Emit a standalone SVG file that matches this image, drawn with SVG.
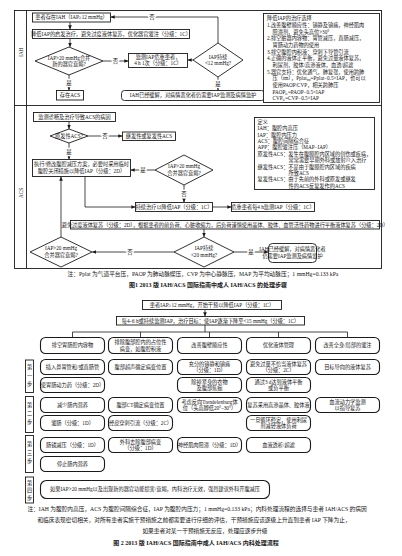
<svg xmlns="http://www.w3.org/2000/svg" width="402" height="556" viewBox="0 0 402 556">
<defs>
<marker id="ah" viewBox="0 0 6 6" refX="6" refY="3" markerUnits="userSpaceOnUse" markerWidth="4.2" markerHeight="4.2" orient="auto"><path d="M0,0.4 L6,3 L0,5.6 z" fill="#1a1a1a"/></marker>
<style>
.f{fill:none;stroke:#1a1a1a;stroke-width:0.9}
.b{fill:#fff;stroke:#1a1a1a;stroke-width:0.9}
.r{fill:#fff;stroke:#1a1a1a;stroke-width:1.1}
.t{font-family:"Liberation Serif","Noto Sans CJK SC",serif;font-size:5.2px;text-anchor:middle;fill:#141414}
.l{text-anchor:start}
.c{fill:none;stroke:#1a1a1a;stroke-width:0.8}
.a{marker-end:url(#ah)}
.y{font-size:5.4px;stroke:#fff;stroke-width:2.6px;paint-order:stroke}
.cap{font-size:5.7px}
.ttl{font-size:6px;font-weight:bold}
</style>
</defs>
<rect width="402" height="556" fill="#fff"/>

<!-- ================= Figure 1 ================= -->
<g id="fig1-frame">
<rect class="f" x="14.5" y="10.5" width="367" height="258"/>
<line class="f" x1="26.5" y1="10.5" x2="26.5" y2="268.5"/>
<line class="f" x1="14.5" y1="105.5" x2="381.5" y2="105.5"/>
<text class="t" transform="rotate(-90 20.5 52)" x="20.5" y="54" font-size="5.6">IAH</text>
<text class="t" transform="rotate(-90 20.5 193)" x="20.5" y="195" font-size="5.6">ACS</text>
</g>

<g id="f1-connectors">
<line class="c a" x1="70" y1="22" x2="70" y2="29.5"/>
<line class="c a" x1="70" y1="38.5" x2="70" y2="47"/>
<line class="c a" x1="103" y1="61" x2="128.5" y2="61"/>
<line class="c a" x1="193" y1="60" x2="187.5" y2="60"/>
<path class="c a" d="M218,43 V17 H110.5"/>
<line class="c a" x1="218" y1="77" x2="218" y2="90.5"/>
<line class="c a" x1="69" y1="75" x2="69" y2="90.5"/>
<line class="c a" x1="69" y1="121.5" x2="69" y2="129"/>
<line class="c a" x1="88" y1="136" x2="122.5" y2="136"/>
<line class="c a" x1="69" y1="143" x2="69" y2="159.5"/>
<line class="c a" x1="155" y1="170" x2="130.5" y2="170"/>
<path class="c a" d="M85,176.5 V207 H135.5"/>
<line class="c a" x1="184" y1="185" x2="184" y2="202.5"/>
<line class="c a" x1="212.5" y1="207" x2="231.5" y2="207"/>
<line class="c a" x1="204" y1="229" x2="204" y2="237"/>
<line class="c a" x1="174" y1="252" x2="92" y2="252"/>
<line class="c a" x1="234" y1="252" x2="268.5" y2="252"/>
<line class="c a" x1="61" y1="237" x2="61" y2="176.5"/>
<text class="t y" x="152" y="19">否</text>
<text class="t y" x="115.5" y="63">否</text>
<text class="t y" x="218" y="85.5">是</text>
<text class="t y" x="69" y="84.5">是</text>
<text class="t y" x="105" y="138">否</text>
<text class="t y" x="69" y="153.5">是</text>
<text class="t y" x="143" y="172">是</text>
<text class="t y" x="184" y="196">否</text>
<text class="t y" x="130" y="254">否</text>
<text class="t y" x="251" y="254">是</text>
</g>

<g id="n-iah">
<rect class="b" x="32.5" y="13" width="78" height="9" stroke-width="1.2"/>
<text class="t" x="71.5" y="19.4" font-size="5.3">患者存在IAH（IAP≥12 mmHg）</text>
</g>
<g id="n-start">
<rect class="b" x="32.5" y="29.5" width="157" height="9" stroke-width="1.2"/>
<text class="t" x="111" y="35.8" font-size="5">降低IAP的启发治疗，避免过度液体复苏，优化器官灌注（分级：1C）</text>
</g>
<g id="n-d1">
<polygon class="b" points="35,61 69,47 103,61 69,75"/>
<text class="t" x="69" y="59.6" font-size="5.1">IAP&gt;20 mmHg合并</text>
<text class="t" x="69" y="66.2" font-size="5.1">新的器官衰竭?</text>
</g>
<g id="n-monitor">
<rect class="b" x="128.5" y="53.5" width="59" height="14"/>
<text class="t" x="158" y="59.3" font-size="5">监测IAP危重患者，</text>
<text class="t" x="158" y="65.4" font-size="5">4 h 1次（分级：1C）</text>
</g>
<g id="n-d2">
<polygon class="b" points="193,60 218,43 243,60 218,77"/>
<text class="t" x="218" y="58.6" font-size="5">IAP持续</text>
<text class="t" x="218" y="65" font-size="5">&lt;12 mmHg?</text>
</g>
<g id="n-resolved1">
<rect class="b" x="121.5" y="90.5" width="143" height="10" rx="3"/>
<text class="t" x="193" y="97.3" font-size="5.2">IAH已经缓解，对病情恶化者仍需要IAP监测及病情监护</text>
</g>
<g id="n-acs">
<rect class="b" x="56.5" y="90.5" width="27" height="9.5"/>
<text class="t" x="70" y="97.1" font-size="5">存在ACS</text>
</g>
<g id="n-options">
<rect class="b" x="263.5" y="13.5" width="116" height="89"/>
<text class="t l" x="267" y="20.3" font-size="5.4">降低IAP的治疗选择</text>
<text class="t l" x="267" y="27" font-size="5.4">1.改善腹壁顺应性：镇静及镇痛，神经肌肉</text>
<text class="t l" x="272.5" y="33.6" font-size="5.4">阻滞剂，避免头高位&gt;30°</text>
<text class="t l" x="267" y="40.3" font-size="5.4">2.排空脏器内容物：胃管减压，直肠减压，</text>
<text class="t l" x="272.5" y="46.9" font-size="5.4">胃肠动力药物的使用</text>
<text class="t l" x="267" y="53.6" font-size="5.4">3.排空腹腔内积液：穿刺下导管引流</text>
<text class="t l" x="267" y="60.2" font-size="5.4">4.正确的液体正平衡，避免过量液体复苏，</text>
<text class="t l" x="272.5" y="66.9" font-size="5.4">利尿剂，胶体/高渗液体，血透/超滤</text>
<text class="t l" x="267" y="73.5" font-size="5.4">5.器官支持：优化通气，肺复张，使用跨肺</text>
<text class="t l" x="272.5" y="80.2" font-size="5.2">压（tm），Pplat<tspan font-size="3.6" dy="1">tm</tspan><tspan dy="-1">=Pplat−0.5×IAP，也可以</tspan></text>
<text class="t l" x="272.5" y="86.8" font-size="5.4">使用PAOP/CVP，相关跨肺压</text>
<text class="t l" x="272.5" y="93.5" font-size="5.4">PAOP<tspan font-size="3.6" dy="1">ie</tspan><tspan dy="-1">=PAOP−0.5×IAP</tspan></text>
<text class="t l" x="272.5" y="100.1" font-size="5.4">CVP<tspan font-size="3.6" dy="1">ie</tspan><tspan dy="-1">=CVP−0.5×IAP</tspan></text>
</g>

<g id="n-cause">
<rect class="b" x="33.5" y="112.5" width="82" height="9"/>
<text class="t" x="74.5" y="118.8" font-size="5.2">监测诊断及治疗导致ACS的病因</text>
</g>
<g id="n-d3">
<polygon class="b" points="50,136 69,129 88,136 69,143"/>
<text class="t" x="69" y="137.8" font-size="4.6">原发性ACS?</text>
</g>
<g id="n-secondary">
<rect class="b" x="122.5" y="132" width="53" height="8.5"/>
<text class="t" x="149" y="138.1" font-size="5.1">继发性或复发性ACS</text>
</g>
<g id="n-decomp">
<rect class="b" x="32.5" y="159.5" width="98" height="17"/>
<text class="t" x="81.5" y="166.2" font-size="5.1">执行/修改腹腔减压方案，必要时采用临时</text>
<text class="t" x="81.5" y="173.2" font-size="5.1">腹腔关闭措施以降低IAP（分级：2D）</text>
</g>
<g id="n-d4">
<polygon class="b" points="155,170 184,155 213,170 184,185"/>
<text class="t" x="184" y="168.4" font-size="5">IAP&gt;20 mmHg</text>
<text class="t" x="184" y="175" font-size="5">合并器官衰竭?</text>
</g>
<g id="n-defs">
<rect class="b" x="254.5" y="117.5" width="120" height="72"/>
<text class="t l" x="257.5" y="123.8" font-size="5.2">定义</text>
<text class="t l" x="257.5" y="130.2" font-size="5.2">IAH：腹腔内高压</text>
<text class="t l" x="257.5" y="136.6" font-size="5.2">IAP：腹腔内压力</text>
<text class="t l" x="257.5" y="143" font-size="5.2">ACS：腹腔间隔综合征</text>
<text class="t l" x="257.5" y="149.4" font-size="5.2">APP：腹腔灌注压（MAP−IAP）</text>
<text class="t l" x="257.5" y="155.8" font-size="5.2">原发性ACS：发生在腹膜腔内区域的创伤或疾病，</text>
<text class="t l" x="288.5" y="162.2" font-size="5.2">常常需要早期外科或放射介入治疗</text>
<text class="t l" x="257.5" y="168.6" font-size="5.2">继发性ACS：不是由于腹膜腔内区域的疾病</text>
<text class="t l" x="288.5" y="175" font-size="5.2">所致ACS</text>
<text class="t l" x="257.5" y="181.4" font-size="5.2">复发性ACS：由于先前的外科或原发或继发</text>
<text class="t l" x="288.5" y="187.8" font-size="5.2">性的ACS反复发作的ACS</text>
</g>
<g id="n-continue">
<rect class="b" x="135.5" y="202.5" width="77" height="9"/>
<text class="t" x="174" y="208.6" font-size="4.9">持续治疗以降低IAP（分级：1C）</text>
</g>
<g id="n-q4h">
<rect class="b" x="231.5" y="202.5" width="83" height="9"/>
<text class="t" x="273" y="208.6" font-size="4.9">危重患者每4 h监测IAP（分级：1C）</text>
</g>
<g id="n-fluid">
<rect class="b" x="70.5" y="220.5" width="309" height="8.5"/>
<text class="t" x="225" y="226.5" font-size="4.75">避免过度液体复苏（分级：2D），根据患者的前负荷、心脏收缩力，后负荷谨慎使用晶体、胶体、血管活性药物进行平衡液体复苏（分级：2D）</text>
</g>
<g id="n-d5">
<polygon class="b" points="174,252 204,237 234,252 204,267"/>
<text class="t" x="204" y="250.4" font-size="5">IAP持续</text>
<text class="t" x="204" y="257" font-size="5">&lt;20 mmHg?</text>
</g>
<g id="n-d6">
<polygon class="b" points="30,252 61,237 92,252 61,267"/>
<text class="t" x="61" y="250.4" font-size="5">IAP&gt;20 mmHg</text>
<text class="t" x="61" y="257" font-size="5">合并器官衰竭?</text>
</g>
<g id="n-resolved2">
<rect class="b" x="268.5" y="243.5" width="48" height="19" rx="4"/>
<text class="t" x="292.5" y="251.2" font-size="3.8">IAH已经缓解，对病情恶化者</text>
<text class="t" x="292.5" y="257.6" font-size="3.8">仍需要IAP监测及病情监护</text>
</g>

<g id="fig1-caption">
<text class="t cap" x="203" y="275.5">注：Pplat 为气道平台压，PAOP 为肺动脉楔压，CVP 为中心静脉压，MAP 为平均动脉压；1 mmHg=0.133 kPa</text>
<text class="t ttl" x="208" y="286.5">图1  2013 版 IAH/ACS 国际指南中成人 IAH/ACS 的处理步骤</text>
</g>

<!-- ================= Figure 2 ================= -->
<g id="f2-connectors">
<line class="c a" x1="205" y1="309.5" x2="205" y2="316.5"/>
<line class="c" x1="205" y1="325" x2="205" y2="332"/>
<line class="c" x1="72.5" y1="332" x2="347.5" y2="332"/>
<line class="c" x1="72.5" y1="332" x2="72.5" y2="337.5"/>
<line class="c" x1="140.5" y1="332" x2="140.5" y2="337.5"/>
<line class="c" x1="209.5" y1="332" x2="209.5" y2="337.5"/>
<line class="c" x1="278.5" y1="332" x2="278.5" y2="337.5"/>
<line class="c" x1="347.5" y1="332" x2="347.5" y2="337.5"/>
</g>

<g id="m-start">
<rect class="b" x="142.5" y="300.5" width="139" height="9"/>
<text class="t" x="212" y="306.7" font-size="5.2">患者IAP≥12 mmHg，开始干预以降低IAP（分级：1C）</text>
</g>
<g id="m-monitor">
<rect class="b" x="116.5" y="316.5" width="188" height="8.5"/>
<text class="t" x="210.5" y="322.5" font-size="4.9">每4–6 h或持续监测IAP，治疗目标：使IAP逐渐下降至&lt;15 mmHg（分级：1C）</text>
</g>

<g id="step-labels">
<rect class="b" x="25.5" y="360" width="8" height="32.5"/>
<text class="t" x="29.5" y="369" font-size="5.4">第</text><text class="t" x="29.5" y="377.5" font-size="5.4">一</text><text class="t" x="29.5" y="386" font-size="5.4">步</text>
<rect class="b" x="25.5" y="396.5" width="8" height="36"/>
<text class="t" x="29.5" y="406.5" font-size="5.4">第</text><text class="t" x="29.5" y="415" font-size="5.4">二</text><text class="t" x="29.5" y="423.5" font-size="5.4">步</text>
<rect class="b" x="25.5" y="435.5" width="8" height="37"/>
<text class="t" x="29.5" y="446" font-size="5.4">第</text><text class="t" x="29.5" y="454.5" font-size="5.4">三</text><text class="t" x="29.5" y="463" font-size="5.4">步</text>
<rect class="b" x="25.5" y="477" width="8" height="26"/>
<text class="t" x="29.5" y="484.5" font-size="5.4">第</text><text class="t" x="29.5" y="492" font-size="5.4">四</text><text class="t" x="29.5" y="499.5" font-size="5.4">步</text>
</g>

<g id="h1"><rect class="r" x="40.5" y="337.5" width="64" height="16" rx="5"/><text class="t" x="72.5" y="347.4" font-size="5.3">排空胃肠腔内容物</text></g>
<g id="h2"><rect class="r" x="108.5" y="337.5" width="64" height="16" rx="5"/><text class="t" x="140.5" y="344.3" font-size="5.2">排除腹部腔内的占位性</text><text class="t" x="140.5" y="350.6" font-size="5.2">病变，如腹腔积液</text></g>
<g id="h3"><rect class="r" x="177.5" y="337.5" width="64" height="16" rx="5"/><text class="t" x="209.5" y="347.4" font-size="5.3">改善腹壁顺应性</text></g>
<g id="h4"><rect class="r" x="246.5" y="337.5" width="64" height="16" rx="5"/><text class="t" x="278.5" y="347.4" font-size="5.3">优化液体管理</text></g>
<g id="h5"><rect class="r" x="315.5" y="337.5" width="64" height="16" rx="5"/><text class="t" x="347.5" y="347.4" font-size="5.3">改善全身/局部的灌注</text></g>

<g id="s1-c1"><rect class="r" x="40.5" y="359.5" width="64" height="15" rx="5"/><text class="t" x="72.5" y="368.9" font-size="5.2">插入鼻胃管和/或直肠管</text></g>
<g id="s1-c2"><rect class="r" x="108.5" y="359.5" width="64" height="15" rx="5"/><text class="t" x="140.5" y="368.9" font-size="5.2">腹部超声确定病变位置</text></g>
<g id="s1-c3"><rect class="r" x="177.5" y="359.5" width="64" height="15" rx="5"/><text class="t" x="209.5" y="365.8" font-size="5">充分的镇静和镇痛</text><text class="t" x="209.5" y="372" font-size="5">（分级：1D）</text></g>
<g id="s1-c4"><rect class="r" x="246.5" y="359.5" width="64" height="15" rx="5"/><text class="t" x="278.5" y="365.8" font-size="5">避免过量不恰当液体复苏</text><text class="t" x="278.5" y="372" font-size="5">（分级：2C）</text></g>
<g id="s1-c5"><rect class="r" x="315.5" y="359.5" width="64" height="15" rx="5"/><text class="t" x="347.5" y="368.9" font-size="5.2">目标导向的液体复苏</text></g>

<g id="s1b-c1"><rect class="r" x="40.5" y="377.5" width="64" height="15" rx="5"/><text class="t" x="72.5" y="386.9" font-size="4.7">使胃肠动力药（分级：2D）</text></g>
<g id="s1b-c3"><rect class="r" x="177.5" y="377.5" width="64" height="15" rx="5"/><text class="t" x="209.5" y="383.8" font-size="5">除掉紧身的衣物</text><text class="t" x="209.5" y="390" font-size="5">及腹部焦痂</text></g>
<g id="s1b-c4"><rect class="r" x="246.5" y="377.5" width="64" height="15" rx="5"/><text class="t" x="278.5" y="383.8" font-size="5">通过3 d达到液体平衡</text><text class="t" x="278.5" y="390" font-size="5">或负平衡</text></g>

<g id="s2-c1"><rect class="r" x="40.5" y="397.5" width="64" height="15" rx="5"/><text class="t" x="72.5" y="406.9" font-size="5.2">减少肠内营养</text></g>
<g id="s2-c2"><rect class="r" x="108.5" y="397.5" width="64" height="15" rx="5"/><text class="t" x="140.5" y="406.9" font-size="5.2">腹部CT确定病变位置</text></g>
<g id="s2-c3"><rect class="r" x="177.5" y="397.5" width="64" height="15" rx="5"/><text class="t" x="209.5" y="403.8" font-size="4.8">考虑反向Trendelenburg体</text><text class="t" x="209.5" y="410" font-size="4.8">位（头高脚低20°–30°）</text></g>
<g id="s2-c4"><rect class="r" x="246.5" y="397.5" width="64" height="15" rx="5"/><text class="t" x="278.5" y="406.9" font-size="4.9">复苏采用高渗晶体、胶体液</text></g>
<g id="s2-c5"><rect class="r" x="315.5" y="397.5" width="64" height="15" rx="5"/><text class="t" x="347.5" y="403.8" font-size="5">血流动力学监测</text><text class="t" x="347.5" y="410" font-size="5">以指导复苏</text></g>

<g id="s2b-c1"><rect class="r" x="40.5" y="415.5" width="64" height="15" rx="5"/><text class="t" x="72.5" y="424.9" font-size="5">灌肠（分级：1D）</text></g>
<g id="s2b-c2"><rect class="r" x="108.5" y="415.5" width="64" height="15" rx="5"/><text class="t" x="140.5" y="424.9" font-size="4.7">经皮穿刺引流（分级：2C）</text></g>
<g id="s2b-c4"><rect class="r" x="246.5" y="415.5" width="64" height="15" rx="5"/><text class="t" x="278.5" y="421.8" font-size="5">一旦循环稳定，使用利尿</text><text class="t" x="278.5" y="428" font-size="5">剂减轻液体负荷</text></g>

<g id="s3-c1"><rect class="r" x="40.5" y="437.5" width="64" height="15" rx="5"/><text class="t" x="72.5" y="446.9" font-size="5">肠镜减压（分级：1D）</text></g>
<g id="s3-c2"><rect class="r" x="108.5" y="437.5" width="64" height="15" rx="5"/><text class="t" x="140.5" y="443.8" font-size="5">外科去除腹部病变</text><text class="t" x="140.5" y="450" font-size="5">（分级：1D）</text></g>
<g id="s3-c3"><rect class="r" x="177.5" y="437.5" width="64" height="15" rx="5"/><text class="t" x="209.5" y="446.9" font-size="4.7">神经肌肉阻滞（分级：1D）</text></g>
<g id="s3-c4"><rect class="r" x="246.5" y="437.5" width="64" height="15" rx="5"/><text class="t" x="278.5" y="446.9" font-size="5.2">血液透析/超滤</text></g>

<g id="s3b-c1"><rect class="r" x="40.5" y="456.5" width="64" height="15" rx="5"/><text class="t" x="72.5" y="465.9" font-size="5.2">停止肠内营养</text></g>

<g id="s4"><rect class="r" x="40.5" y="480.5" width="229" height="18" rx="6"/><text class="t" x="155" y="491.4" font-size="5.3">如果IAP&gt;20 mmHg以及出现新的器官功能损害/衰竭，内科治疗无效，强烈建议外科开腹减压</text></g>

<g id="fig2-caption">
<text class="t cap" x="197" y="511">注：IAH 为腹腔内高压，ACS 为腹腔间隔综合征，IAP 为腹腔内压力；1 mmHg=0.133 kPa；内科处理流程的选择与患者 IAH/ACS 的病因</text>
<text class="t cap" x="194" y="522">和临床表现密切相关，对所有患者实施干预措施之前都需要进行仔细的评估，干预措施应该逐级上升直到患者 IAP 下降为止，</text>
<text class="t cap" x="205" y="533">如果患者对某一干预措施无反应，处理应逐步升级</text>
<text class="t ttl" x="196" y="545">图 2   2013 版 IAH/ACS 国际指南中成人 IAH/ACS 内科处理流程</text>
</g>
</svg>
